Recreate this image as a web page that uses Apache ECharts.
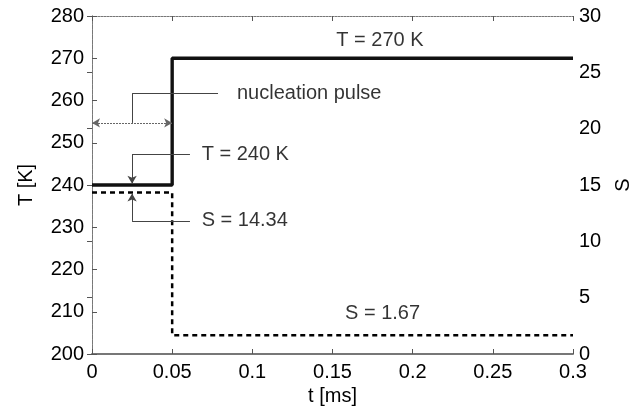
<!DOCTYPE html>
<html>
<head>
<meta charset="utf-8">
<script src="https://cdn.jsdelivr.net/npm/echarts@6/dist/echarts.min.js"></script>
<style>
  html, body { margin: 0; padding: 0; background: #fff; }
  #chart { width: 631px; height: 411px; }
</style>
</head>
<body>
<div id="chart"></div>
<script>
// Step profile of temperature and supersaturation over the nucleation pulse
const timeMs = [0, 0.05, 0.05, 0.3];
const temperatureK = [240, 240, 270, 270];
const saturation = [14.34, 14.34, 1.67, 1.67];

// Annotation text, anchored in data units (t [ms], T [K])
const noteTexts = ['nucleation pulse', 'T = 240 K', 'S = 14.34', 'T = 270 K', 'S = 1.67'];
const noteT = [0.0904, 0.0684, 0.0684, 0.1796, 0.1812];
const noteK = [261.6, 247.3, 231.5, 274.2, 209.7];

// Leader lines (t, T pairs)
const pulseArrow = [[0, 254.7], [0.05, 254.7]];
const pulseLeader = [[0.025, 254.7], [0.025, 261.6], [0.0786, 261.6]];
const t240Leader = [[0.0611, 247.3], [0.025, 247.3], [0.025, 240.3]];
const s1434Leader = [[0.0611, 231.5], [0.025, 231.5], [0.025, 238.0]];

const FONT = 'Liberation Sans';
const FS = 20;
const chart = echarts.init(document.getElementById('chart'));

function seg(a, b, startSym, endSym, style) {
  const item = [
    { coord: a, symbol: startSym },
    { coord: b, symbol: endSym }
  ];
  if (style) item[0].lineStyle = style;
  return item;
}

const axisGray = '#777';
const textColor = '#000';

chart.setOption({
  animation: false,
  backgroundColor: '#fff',
  textStyle: { fontFamily: FONT },
  grid: { left: 92, right: 58, top: 16, bottom: 57, outerBoundsMode: 'none', containLabel: false },
  xAxis: [
    {
      type: 'value', min: 0, max: 0.3, interval: 0.05,
      name: 't [ms]', nameLocation: 'middle', nameGap: 28,
      nameTextStyle: { fontFamily: FONT, fontSize: FS, color: textColor },
      axisLine: { show: true, lineStyle: { color: axisGray, width: 2 } },
      axisTick: { show: true, inside: true, length: 5, lineStyle: { color: '#555' } },
      axisLabel: { fontFamily: FONT, fontSize: FS, color: textColor, margin: 8,
        formatter: v => String(+v.toFixed(2)) },
      splitLine: { show: false }
    },
    {
      type: 'value', min: 0, max: 0.3, interval: 0.05, position: 'top',
      axisLine: { show: true, lineStyle: { color: axisGray, width: 1, type: [2, 1] } },
      axisTick: { show: true, inside: true, length: 5, lineStyle: { color: '#555' } },
      axisLabel: { show: false },
      splitLine: { show: false }
    }
  ],
  yAxis: [
    {
      type: 'value', min: 200, max: 280, interval: 10,
      name: 'T [K]', nameLocation: 'middle', nameGap: 56, nameRotate: 90,
      nameTextStyle: { fontFamily: FONT, fontSize: FS, color: textColor },
      axisLine: { show: true, lineStyle: { color: axisGray, width: 1, type: [4, 1] } },
      axisTick: { show: true, inside: true, length: 5, lineStyle: { color: '#555' } },
      axisLabel: { fontFamily: FONT, fontSize: FS, color: textColor, margin: 8 },
      splitLine: { show: false }
    },
    {
      type: 'value', min: 0, max: 30, interval: 5, position: 'right',
      name: 'S', nameLocation: 'middle', nameGap: 40, nameRotate: 90,
      nameTextStyle: { fontFamily: FONT, fontSize: FS, color: textColor },
      axisLine: { show: true, lineStyle: { color: axisGray, width: 1, type: [4, 1] } },
      axisTick: { show: true, inside: true, length: 5, lineStyle: { color: '#555' } },
      axisLabel: { fontFamily: FONT, fontSize: FS, color: textColor, margin: 6 },
      splitLine: { show: false }
    }
  ],
  series: [
    {
      name: 'S', type: 'line', xAxisIndex: 0, yAxisIndex: 1,
      data: timeMs.map((t, i) => [t, saturation[i]]),
      symbol: 'none', silent: true,
      lineStyle: { color: '#000', width: 2.5, type: [5, 4] }
    },
    {
      name: 'T', type: 'line', xAxisIndex: 0, yAxisIndex: 0,
      data: timeMs.map((t, i) => [t, temperatureK[i]]),
      symbol: 'none', silent: true,
      lineStyle: { color: '#111', width: 3.4 },
      markLine: {
        silent: true,
        animation: false,
        label: { show: false },
        symbolSize: [7, 8],
        lineStyle: { color: '#444', width: 1, type: 'solid' },
        data: [
          seg(pulseArrow[0], pulseArrow[1], 'arrow', 'arrow',
            { color: '#666', width: 1.2, type: [2, 1] }),
          seg(pulseLeader[0], pulseLeader[1], 'none', 'none'),
          seg(pulseLeader[1], pulseLeader[2], 'none', 'none'),
          seg(t240Leader[0], t240Leader[1], 'none', 'none'),
          seg(t240Leader[1], t240Leader[2], 'none', 'arrow'),
          seg(s1434Leader[0], s1434Leader[1], 'none', 'none'),
          seg(s1434Leader[1], s1434Leader[2], 'none', 'arrow')
        ]
      }
    },
    {
      name: 'notes', type: 'scatter', xAxisIndex: 0, yAxisIndex: 0,
      symbolSize: 0, silent: true,
      data: noteTexts.map((s, i) => ({
        value: [noteT[i], noteK[i]],
        label: {
          show: true,
          position: i >= 3 ? 'inside' : 'right',
          distance: 0,
          formatter: s,
          fontFamily: FONT, fontSize: FS, color: textColor
        }
      }))
    }
  ]
});
</script>
</body>
</html>
